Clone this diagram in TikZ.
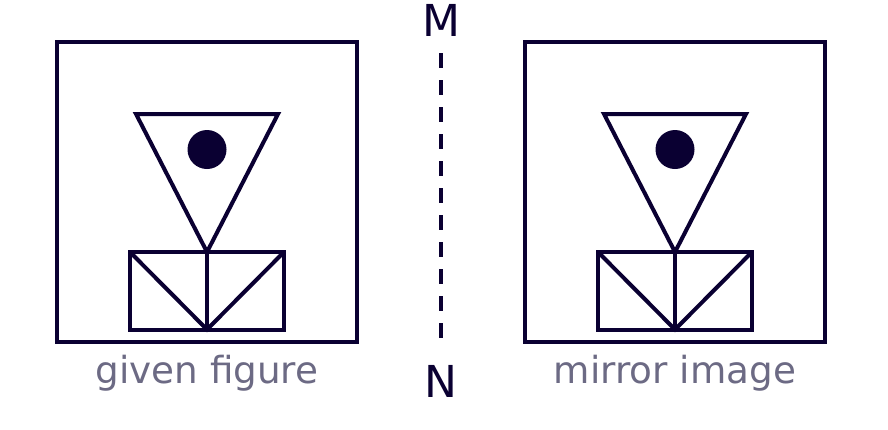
\documentclass[tikz,border=0pt]{standalone}
\usepackage{fontspec}
\setmainfont{DejaVu Sans}
\definecolor{ink}{RGB}{10,0,50}
\definecolor{labelgray}{RGB}{108,106,132}
\tikzset{
  figline/.style={draw=ink, line width=4pt, line join=miter},
  mirrorline/.style={draw=ink, line width=4.2pt, dash pattern=on 15pt off 12pt},
  axislabel/.style={text=ink, font=\fontsize{44}{52}\selectfont, anchor=base, inner sep=0pt},
  caption/.style={text=labelgray, font=\fontsize{37.3}{44}\selectfont, anchor=base, inner sep=0pt},
  pics/figure/.style={code={
    \draw[figline] (-150,-150) rectangle (150,149.5);
    \draw[figline] (-71,-78) -- (71,-78) -- (0,60) -- cycle;
    \fill[ink] (0,-42.5) circle (19.5);
    \draw[figline] (-77,60) rectangle (77,137.5);
    \draw[figline] (0,60) -- (0,137.5);
    \draw[figline] (-77,60) -- (0,137.5) -- (77,60);
  }}
}
\begin{document}
\begin{tikzpicture}[x=1pt,y=-1pt]
\useasboundingbox (0,0) rectangle (888,429);
\pic (given) at (207,192) {figure};
\pic (mirror) at (675,192) {figure};
\node[axislabel] (M) at (441,36) {M};
\node[axislabel] (N) at (441,397) {N};
\coordinate (mtop) at (441,53);
\coordinate (nbot) at (441,339);
\draw[mirrorline] (mtop) -- (nbot);
\node[caption] (givenlabel) at (207,383) {given figure};
\node[caption] (mirrorlabel) at (675,383) {mirror image};
\end{tikzpicture}
\end{document}
